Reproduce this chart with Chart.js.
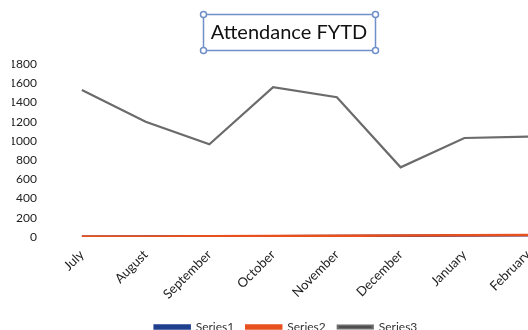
<!DOCTYPE html>
<html>
<head>
<meta charset="utf-8">
<script src="https://cdn.jsdelivr.net/npm/chart.js@4.4.1/dist/chart.umd.min.js"></script>
<style>
  html, body { margin: 0; padding: 0; background: #fff; overflow: hidden; width: 528px; height: 330px; }
  #wrap { position: absolute; left: 0; top: 0; width: 570px; height: 343px; }
</style>
</head>
<body>
<div id="wrap"><canvas id="c" width="570" height="343"></canvas></div>
<script>
const months = ['July', 'August', 'September', 'October', 'November', 'December', 'January', 'February'];
const series1 = [3, 4, 6, 8, 10, 13, 16, 19];
const series2 = [5, 6, 8, 10, 12, 15, 18, 22];
const series3 = [1530, 1200, 965, 1560, 1455, 725, 1030, 1045];
const yTicks = [0, 200, 400, 600, 800, 1000, 1200, 1400, 1600, 1800];
const chartTitle = 'Attendance FYTD';

const FONT = "Lato, 'Open Sans', sans-serif";

// Title text inside a selection frame with round corner handles
const titleFrame = {
  id: 'titleFrame',
  afterDraw(chart) {
    const ctx = chart.ctx;
    const cx = 289, cy = 33;
    ctx.save();
    ctx.font = '20px ' + FONT;
    ctx.fillStyle = '#111';
    ctx.textAlign = 'center';
    ctx.textBaseline = 'middle';
    ctx.fillText(chartTitle, cx, cy);
    const w = ctx.measureText(chartTitle).width;
    const x0 = Math.round(cx - w / 2 - 8) + 0.5, x1 = Math.round(cx + w / 2 + 8) + 0.5;
    const y0 = 14.5, y1 = 50.5;
    ctx.strokeStyle = '#6f8fc9';
    ctx.lineWidth = 1.5;
    ctx.strokeRect(x0, y0, x1 - x0, y1 - y0);
    ctx.fillStyle = '#ffffff';
    for (const [hx, hy] of [[x0, y0], [x1, y0], [x0, y1], [x1, y1]]) {
      ctx.beginPath();
      ctx.arc(hx, hy, 3, 0, Math.PI * 2);
      ctx.fill();
      ctx.stroke();
    }
    ctx.restore();
  }
};

new Chart(document.getElementById('c'), {
  type: 'line',
  data: {
    labels: months,
    datasets: [
      // lower "order" is painted on top: the orange line covers the blue one
      { label: 'Series1', data: series1, order: 2, borderColor: '#1f3f8f', backgroundColor: '#1f3f8f', borderWidth: 2.5, pointRadius: 0, tension: 0 },
      { label: 'Series2', data: series2, order: 1, borderColor: '#e8501e', backgroundColor: '#e8501e', borderWidth: 2.5, pointRadius: 0, tension: 0 },
      { label: 'Series3', data: series3, order: 0, borderColor: '#6b6b6b', backgroundColor: '#333333', borderWidth: 2.2, pointRadius: 0, tension: 0 }
    ]
  },
  options: {
    responsive: false,
    animation: false,
    layout: { padding: { left: 12, right: 10, top: 64, bottom: 0 } },
    plugins: {
      title: { display: false },
      legend: {
        position: 'bottom',
        labels: {
          color: '#333',
          font: { family: FONT, size: 12 },
          boxWidth: 35,
          boxHeight: 3,
          padding: 12,
          sort: (a, b) => a.datasetIndex - b.datasetIndex
        }
      },
      tooltip: { enabled: false }
    },
    scales: {
      x: {
        offset: true,
        grid: { display: false, drawTicks: false },
        border: { display: false },
        ticks: { color: '#222', font: { family: FONT, size: 13 }, minRotation: 45, maxRotation: 45, padding: 10, autoSkip: false },
        afterFit(scale) { scale.height = 72; }
      },
      y: {
        min: 0,
        max: 1800,
        afterBuildTicks(scale) { scale.ticks = yTicks.map(v => ({ value: v })); },
        grid: { display: false, drawTicks: false },
        border: { display: false },
        ticks: { color: '#222', font: { family: FONT, size: 12 }, padding: 13, callback: v => String(v) },
        afterFit(scale) { scale.width = 38; }
      }
    }
  },
  plugins: [titleFrame]
});
</script>
</body>
</html>
